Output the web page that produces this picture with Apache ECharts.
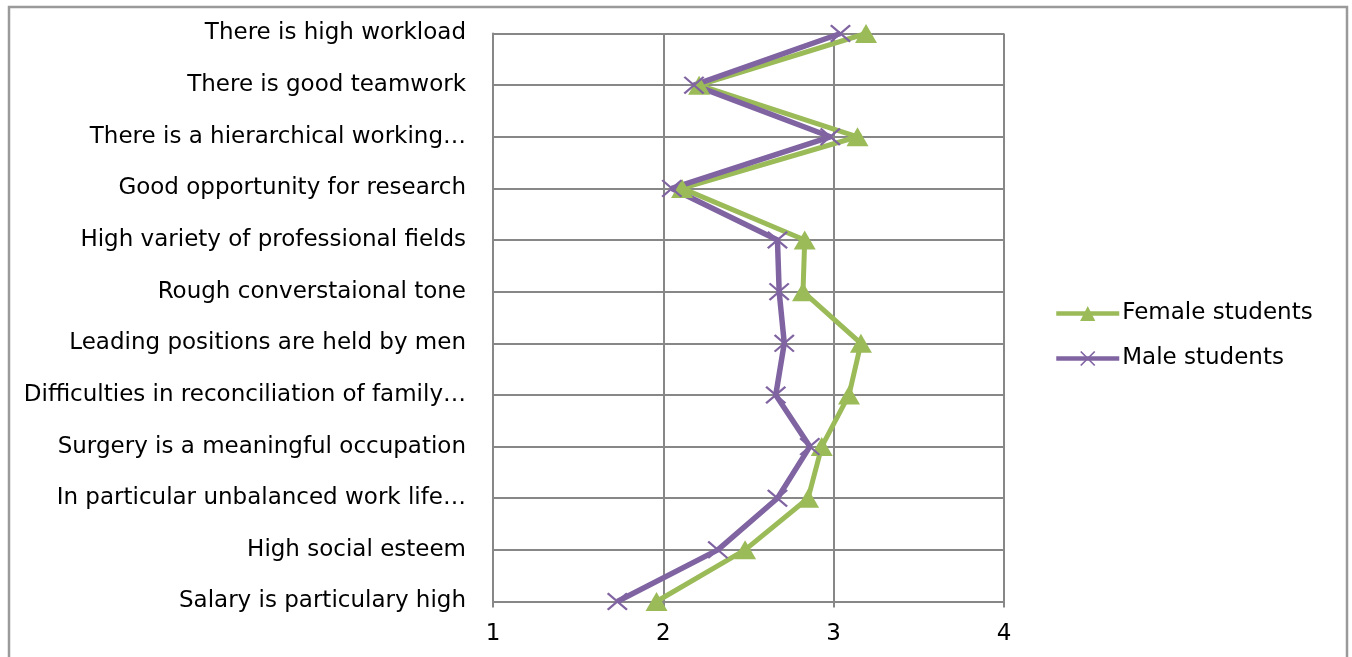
<!DOCTYPE html>
<html>
<head>
<meta charset="utf-8">
<script src="https://cdn.jsdelivr.net/npm/echarts@6/dist/echarts.min.js"></script>
<style>
  html, body { margin: 0; padding: 0; background: #fff; }
  #chart { width: 1352px; height: 657px; }
</style>
</head>
<body>
<div id="chart"></div>
<script>
// Statements rated by students (top to bottom)
const categories = [
  "There is high workload",
  "There is good teamwork",
  "There is a hierarchical working…",
  "Good opportunity for research",
  "High variety of professional fields",
  "Rough converstaional tone",
  "Leading positions are held by men",
  "Difficulties in reconciliation of family…",
  "Surgery is a meaningful occupation",
  "In particular unbalanced work life…",
  "High social esteem",
  "Salary is particulary high"
];

// Mean agreement scores (scale 1–4)
const femaleStudents = [3.19, 2.21, 3.14, 2.11, 2.83, 2.82, 3.16, 3.09, 2.93, 2.85, 2.48, 1.96];
const maleStudents   = [3.04, 2.18, 2.98, 2.05, 2.67, 2.68, 2.71, 2.66, 2.86, 2.67, 2.32, 1.73];

const xTicks = [1, 2, 3, 4];

const FONT = "DejaVu Sans";
const GRID_COLOR = "#878787";

// Thin "x" cross marker
const crossSymbol = "path://M0,0.8L0.8,0L10,9.2L9.2,10Z M9.2,0L10,0.8L0.8,10L0,9.2Z";

const chart = echarts.init(document.getElementById("chart"), null, { renderer: "canvas" });

chart.setOption({
  backgroundColor: "#ffffff",
  animation: false,
  graphic: [{
    type: "rect",
    shape: { x: 9, y: 7, width: 1338, height: 670 },
    style: { fill: "none", stroke: "#9a9a9a", lineWidth: 2.5 },
    silent: true
  }],
  legend: {
    orient: "vertical",
    left: 1054,
    top: 302,
    padding: 0,
    itemWidth: 63,
    itemHeight: 19,
    itemGap: 22,
    lineStyle: { width: 4.5 },
    textStyle: { fontFamily: FONT, fontSize: 23, color: "#000", padding: [0, 0, 0, -2] },
    data: ["Female students", "Male students"]
  },
  grid: {
    left: 493,
    right: 348,
    top: 33.5,
    bottom: 55.5,
    containLabel: false
  },
  xAxis: {
    type: "value",
    min: xTicks[0],
    max: xTicks[xTicks.length - 1],
    interval: 1,
    axisLine: { show: true, lineStyle: { color: GRID_COLOR, width: 2 } },
    axisTick: { show: true, length: 6, lineStyle: { color: GRID_COLOR, width: 2 } },
    axisLabel: {
      fontFamily: FONT, fontSize: 23, color: "#000", margin: 21,
      formatter: v => xTicks.includes(v) ? String(v) : ""
    },
    splitLine: { show: true, lineStyle: { color: GRID_COLOR, width: 2 } }
  },
  yAxis: {
    type: "category",
    data: categories,
    inverse: true,
    boundaryGap: false,
    axisLine: { show: true, lineStyle: { color: GRID_COLOR, width: 2 } },
    axisTick: { show: false },
    axisLabel: { fontFamily: FONT, fontSize: 23, color: "#000", margin: 27, interval: 0 },
    splitLine: { show: true, interval: 0, lineStyle: { color: GRID_COLOR, width: 2 } }
  },
  series: [
    {
      name: "Female students",
      type: "line",
      data: femaleStudents,
      symbol: "triangle",
      symbolSize: [22, 19],
      showAllSymbol: true,
      lineStyle: { color: "#9BBB59", width: 5 },
      itemStyle: { color: "#9BBB59" }
    },
    {
      name: "Male students",
      type: "line",
      data: maleStudents,
      symbol: crossSymbol,
      symbolSize: [21, 18],
      showAllSymbol: true,
      lineStyle: { color: "#8064A2", width: 5.5 },
      itemStyle: { color: "#8064A2" }
    }
  ]
});
</script>
</body>
</html>
